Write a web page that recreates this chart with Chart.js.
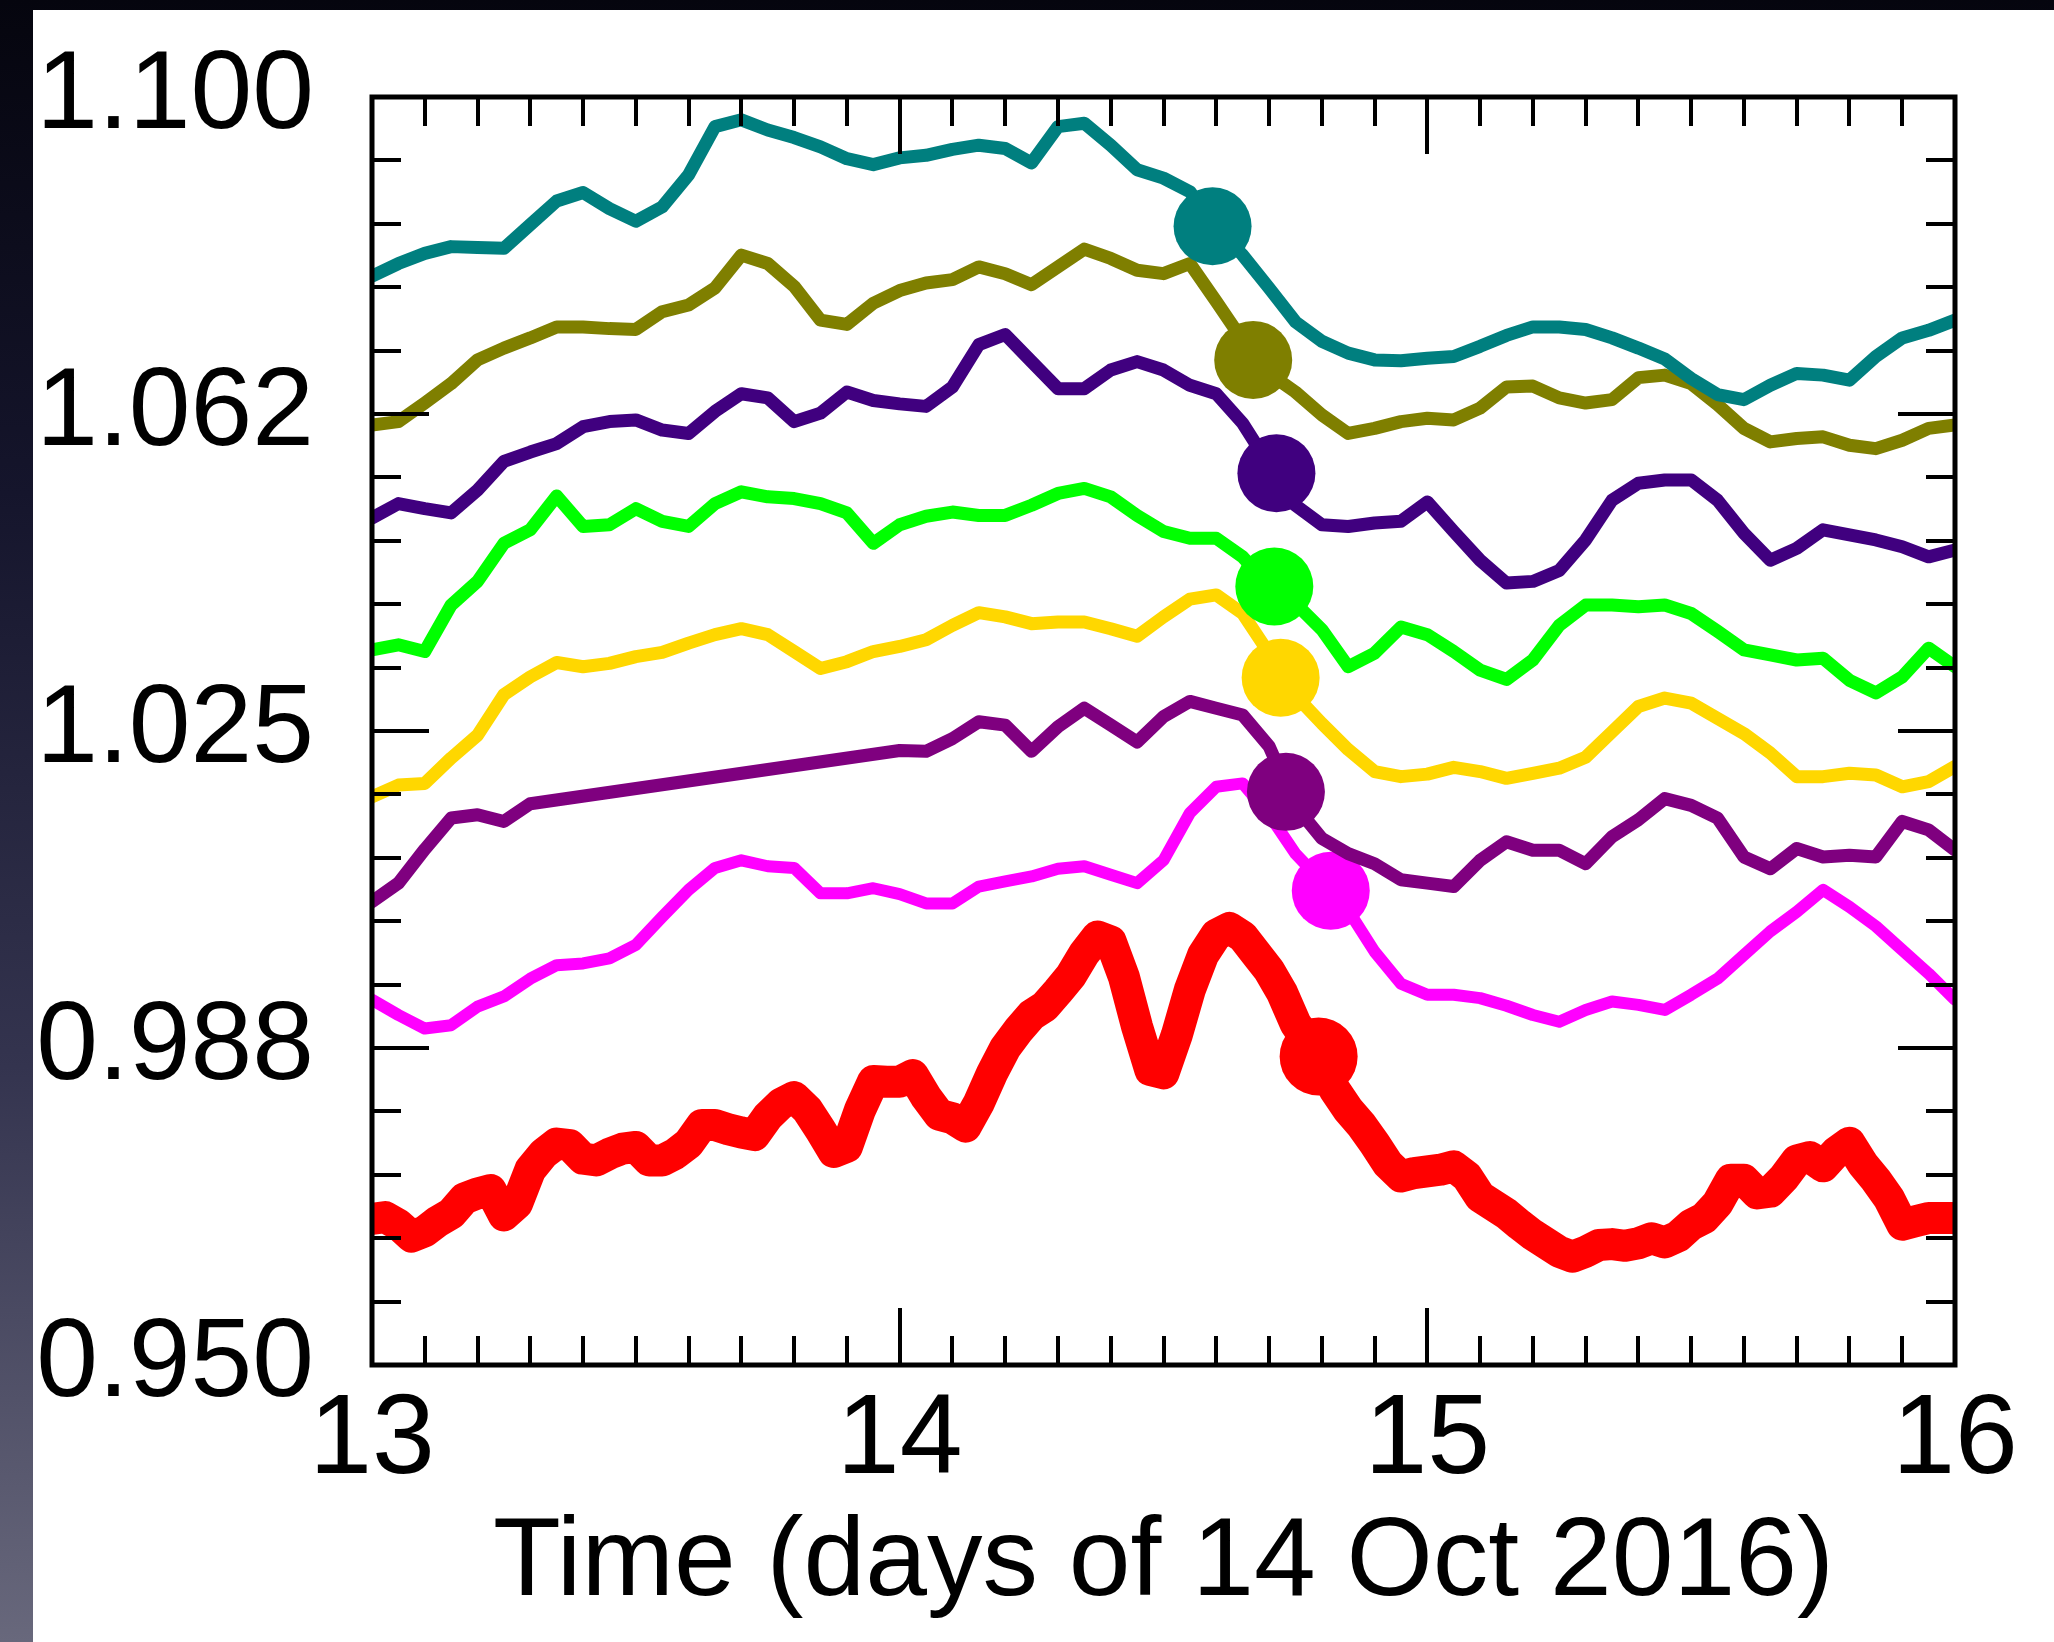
<!DOCTYPE html>
<html>
<head>
<meta charset="utf-8">
<title>Normalised curves, 13-16 Oct 2016</title>
<script src="https://cdn.jsdelivr.net/npm/chart.js@4.4.1/dist/chart.umd.min.js"></script>
<style>
  html, body { margin: 0; padding: 0; }
  body {
    width: 2054px;
    height: 1642px;
    position: relative;
    overflow: hidden;
    background: linear-gradient(to bottom, #05050e 0%, #15152c 30%, #34344f 65%, #68687c 100%);
  }
  #panel { position: absolute; left: 33px; top: 10px; right: 0; bottom: 0; background: #fff; }
  #chart { position: absolute; left: 0; top: 0; }
</style>
</head>
<body>
<div id="panel"></div>
<canvas id="chart" width="2054" height="1642"></canvas>
<script>
// ---------------------------------------------------------------------------
// Axis ticks
// ---------------------------------------------------------------------------
const xTickValues = [13, 14, 15, 16];
const yTickValues = [0.95, 0.9875, 1.025, 1.0625, 1.1];
const yTickLabels = ['0.950', '0.988', '1.025', '1.062', '1.100'];
const xTitle = 'Time (days of 14 Oct 2016)';

// sample times: every 0.05 day for the smooth curves, 0.025 day for the red one
const days = [];
for (let i = 0; i <= 60; i++) days.push(+(13 + i * 0.05).toFixed(3));
const redDays = [];
for (let i = 0; i <= 120; i++) redDays.push(+(13 + i * 0.025).toFixed(3));

// ---------------------------------------------------------------------------
// Series values (top curve first)
// ---------------------------------------------------------------------------
const teal = [
  1.0788, 1.0803, 1.0815, 1.0823, 1.0822, 1.0821, 1.0849, 1.0877, 1.0887, 1.0868,
  1.0853, 1.0870, 1.0908, 1.0965, 1.0973, 1.0961, 1.0952, 1.0941, 1.0927, 1.0920,
  1.0928, 1.0931, 1.0938, 1.0943, 1.0939, 1.0922, 1.0965, 1.0969, 1.0943, 1.0914,
  1.0904, 1.0888, 1.0845, 1.0813, 1.0774, 1.0734, 1.0711, 1.0697, 1.0689, 1.0688,
  1.0691, 1.0693, 1.0705, 1.0718, 1.0728, 1.0728, 1.0725, 1.0715, 1.0703, 1.0690,
  1.0667, 1.0648, 1.0642, 1.0659, 1.0673, 1.0671, 1.0665, 1.0693, 1.0715, 1.0724,
  1.0736
];
const olive = [
  1.0612, 1.0616, 1.0638, 1.0661, 1.0689, 1.0703, 1.0715, 1.0728, 1.0728, 1.0726,
  1.0725, 1.0746, 1.0754, 1.0774, 1.0813, 1.0803, 1.0776, 1.0736, 1.0731, 1.0756,
  1.0771, 1.0780, 1.0784, 1.0799, 1.0791, 1.0778, 1.0799, 1.0820, 1.0809, 1.0795,
  1.0791, 1.0803, 1.0758, 1.0712, 1.0673, 1.0651, 1.0624, 1.0602, 1.0608, 1.0616,
  1.0620, 1.0618, 1.0632, 1.0657, 1.0658, 1.0644, 1.0638, 1.0642, 1.0668, 1.0671,
  1.0661, 1.0636, 1.0608, 1.0592, 1.0596, 1.0598, 1.0588, 1.0584, 1.0594, 1.0608,
  1.0612
];
const indigo = [
  1.0502, 1.0519, 1.0513, 1.0508, 1.0535, 1.0569, 1.0580, 1.0590, 1.0610, 1.0616,
  1.0618, 1.0606, 1.0602, 1.0628, 1.0649, 1.0644, 1.0616, 1.0626, 1.0651, 1.0641,
  1.0637, 1.0634, 1.0657, 1.0707, 1.0719, 1.0687, 1.0655, 1.0655, 1.0677, 1.0687,
  1.0677, 1.0659, 1.0649, 1.0614, 1.0565, 1.0517, 1.0494, 1.0492, 1.0496, 1.0498,
  1.0521, 1.0486, 1.0452, 1.0425, 1.0427, 1.0440, 1.0476, 1.0523, 1.0543, 1.0547,
  1.0547, 1.0523, 1.0484, 1.0452, 1.0466, 1.0488, 1.0482, 1.0476, 1.0468, 1.0456,
  1.0464
];
const green = [
  1.0346, 1.0352, 1.0344, 1.0399, 1.0427, 1.0472, 1.0488, 1.0528, 1.0492, 1.0494,
  1.0513, 1.0498, 1.0492, 1.0519, 1.0533, 1.0527, 1.0525, 1.0519, 1.0508, 1.0472,
  1.0494, 1.0504, 1.0509, 1.0505, 1.0505, 1.0517, 1.0531, 1.0537, 1.0527, 1.0505,
  1.0486, 1.0478, 1.0478, 1.0456, 1.0421, 1.0401, 1.0370, 1.0326, 1.0342, 1.0373,
  1.0364, 1.0344, 1.0322, 1.0311, 1.0334, 1.0375, 1.0399, 1.0399, 1.0397, 1.0399,
  1.0389, 1.0368, 1.0346, 1.0340, 1.0334, 1.0336, 1.0310, 1.0295, 1.0314, 1.0348,
  1.0326
];
const gold = [
  1.0172, 1.0186, 1.0188, 1.0218, 1.0245, 1.0293, 1.0314, 1.0331, 1.0326, 1.0330,
  1.0338, 1.0343, 1.0354, 1.0364, 1.0371, 1.0364, 1.0344, 1.0324, 1.0332, 1.0344,
  1.0350, 1.0358, 1.0375, 1.0390, 1.0385, 1.0377, 1.0379, 1.0379, 1.0371, 1.0362,
  1.0385, 1.0406, 1.0411, 1.0389, 1.0342, 1.0292, 1.0259, 1.0228, 1.0202, 1.0196,
  1.0199, 1.0207, 1.0202, 1.0194, 1.0200, 1.0206, 1.0219, 1.0249, 1.0279, 1.0289,
  1.0283, 1.0265, 1.0247, 1.0224, 1.0196, 1.0196, 1.0200, 1.0198, 1.0184, 1.0190,
  1.0208
];
// no samples between 13.30 and 14.00: the line is drawn straight across the gap
const purple = [
  1.0048, 1.0070, 1.0110, 1.0147, 1.0151, 1.0143, 1.0164, null, null, null,
  null, null, null, null, null, null, null, null, null, null,
  1.0227, 1.0226, 1.0241, 1.0261, 1.0257, 1.0226, 1.0255, 1.0277, 1.0257, 1.0237,
  1.0267, 1.0285, 1.0277, 1.0269, 1.0232, 1.0161, 1.0123, 1.0105, 1.0093, 1.0074,
  1.0070, 1.0066, 1.0097, 1.0119, 1.0109, 1.0109, 1.0093, 1.0125, 1.0145, 1.0170,
  1.0162, 1.0147, 1.0101, 1.0087, 1.0111, 1.0101, 1.0103, 1.0101, 1.0143, 1.0133,
  1.0109
];
const magenta = [
  0.9932, 0.9914, 0.9898, 0.9902, 0.9924, 0.9936, 0.9957, 0.9973, 0.9975, 0.9981,
  0.9997, 1.0030, 1.0062, 1.0088, 1.0097, 1.0090, 1.0088, 1.0058, 1.0058, 1.0064,
  1.0057, 1.0046, 1.0046, 1.0066, 1.0072, 1.0078, 1.0087, 1.0090, 1.0080, 1.0070,
  1.0097, 1.0153, 1.0184, 1.0188, 1.0151, 1.0105, 1.0072, 1.0038, 0.9989, 0.9951,
  0.9938, 0.9938, 0.9934, 0.9925, 0.9914, 0.9906, 0.9920, 0.9930, 0.9926, 0.9920,
  0.9938, 0.9957, 0.9985, 1.0013, 1.0036, 1.0062, 1.0042, 1.0019, 0.9991, 0.9963,
  0.9932
];
const red = [
  0.9673, 0.9675, 0.9666, 0.9652, 0.9658, 0.9670, 0.9679, 0.9697, 0.9703, 0.9707,
  0.9677, 0.9691, 0.9731, 0.9750, 0.9762, 0.9760, 0.9744, 0.9742, 0.9750, 0.9756,
  0.9758, 0.9742, 0.9742, 0.9750, 0.9762, 0.9784, 0.9784, 0.9779, 0.9775, 0.9772,
  0.9794, 0.9809, 0.9817, 0.9802, 0.9778, 0.9752, 0.9758, 0.9802, 0.9836, 0.9835,
  0.9835, 0.9843, 0.9817, 0.9796, 0.9792, 0.9782, 0.9810, 0.9845, 0.9875, 0.9896,
  0.9914, 0.9924, 0.9942, 0.9961, 0.9987, 1.0007, 1.0001, 0.9959, 0.9900, 0.9849,
  0.9845, 0.9890, 0.9944, 0.9985, 1.0009, 1.0017, 1.0007, 0.9987, 0.9967, 0.9940,
  0.9904, 0.9881, 0.9855, 0.9825, 0.9802, 0.9784, 0.9762, 0.9738, 0.9723, 0.9727,
  0.9729, 0.9731, 0.9735, 0.9723, 0.9699, 0.9689, 0.9679, 0.9666, 0.9654, 0.9644,
  0.9634, 0.9628, 0.9634, 0.9642, 0.9643, 0.9641, 0.9644, 0.9650, 0.9645, 0.9652,
  0.9666, 0.9674, 0.9691, 0.9719, 0.9719, 0.9703, 0.9705, 0.9721, 0.9742, 0.9746,
  0.9735, 0.9752, 0.9763, 0.9738, 0.9719, 0.9697, 0.9666, 0.9670, 0.9674, 0.9674,
  0.9674
];

// one highlighted sample per curve
const markerDay = [14.593, 14.670, 14.714, 14.710, 14.722, 14.732, 14.817, 14.794];
const markerValue = [1.0847, 1.0689, 1.0555, 1.0421, 1.0313, 1.0178, 1.0061, 0.9865];

// ---------------------------------------------------------------------------
// Styling
// ---------------------------------------------------------------------------
const curves = [teal, olive, indigo, green, gold, purple, magenta, red];
const curveColors = ['#007f7f', '#7f7f00', '#40007f', '#00ff00', '#ffd700', '#7f007f', '#ff00ff', '#ff0000'];
const curveWidths = [13, 13, 13, 13, 13, 13, 12, 32];
const FONT = "'Liberation Sans', Arial, Helvetica, sans-serif";
const NARROW = "'Liberation Sans Narrow', 'Arial Narrow', 'Liberation Sans', Arial, sans-serif";

Chart.defaults.font.family = FONT;
Chart.defaults.color = '#000';

const datasets = [];
curves.forEach(function (vals, i) {
  const times = vals === red ? redDays : days;
  datasets.push({
    type: 'line',
    data: times.map((d, k) => ({ x: d, y: vals[k] })),
    borderColor: curveColors[i],
    borderWidth: curveWidths[i],
    borderJoinStyle: 'round',
    borderCapStyle: 'round',
    pointRadius: 0,
    tension: 0,
    spanGaps: true,
    clip: 0,
    order: 2 * i + 1
  });
  datasets.push({
    type: 'line',
    showLine: false,
    data: [{ x: markerDay[i], y: markerValue[i] }],
    backgroundColor: curveColors[i],
    borderColor: curveColors[i],
    borderWidth: 0,
    pointRadius: 39,
    pointHoverRadius: 39,
    order: 2 * i
  });
});

// frame with inward ticks on all four sides
const frameAndTicks = {
  id: 'frameAndTicks',
  afterDatasetsDraw(chart) {
    const { ctx, chartArea: a, scales: { x, y } } = chart;
    ctx.save();
    ctx.strokeStyle = '#000';
    ctx.lineWidth = 4;
    ctx.beginPath();
    for (let i = 1; i < 30; i++) {
      const px = Math.round(x.getPixelForValue(13 + i * 0.1));
      const len = i % 10 === 0 ? 57 : 29;
      ctx.moveTo(px, a.bottom); ctx.lineTo(px, a.bottom - len);
      ctx.moveTo(px, a.top); ctx.lineTo(px, a.top + len);
    }
    for (let i = 1; i < 20; i++) {
      const py = Math.round(y.getPixelForValue(0.95 + i * 0.0075));
      const len = i % 5 === 0 ? 57 : 29;
      ctx.moveTo(a.left, py); ctx.lineTo(a.left + len, py);
      ctx.moveTo(a.right, py); ctx.lineTo(a.right - len, py);
    }
    ctx.stroke();
    ctx.lineWidth = 5;
    ctx.strokeRect(a.left, a.top, a.right - a.left, a.bottom - a.top);
    ctx.restore();
  }
};

new Chart(document.getElementById('chart'), {
  type: 'line',
  data: { datasets },
  options: {
    responsive: false,
    animation: false,
    devicePixelRatio: 1,
    events: [],
    layout: { padding: { left: 0, top: 97, right: 99, bottom: 0 } },
    plugins: {
      legend: { display: false },
      tooltip: { enabled: false }
    },
    scales: {
      x: {
        type: 'linear',
        min: 13,
        max: 16,
        grid: { display: false, drawTicks: false },
        border: { display: false },
        afterBuildTicks: scale => { scale.ticks = xTickValues.map(v => ({ value: v })); },
        afterFit: scale => {
          scale.height = 277;
          scale.paddingLeft = 0;
          scale.paddingRight = 0;
        },
        ticks: {
          autoSkip: false,
          maxRotation: 0,
          padding: 20,
          font: { family: NARROW, size: 113, lineHeight: 1 },
          callback: v => String(v)
        },
        title: {
          display: true,
          text: xTitle,
          font: { size: 111, lineHeight: 1 },
          padding: { top: 0, bottom: 22 }
        }
      },
      y: {
        min: 0.95,
        max: 1.1,
        grid: { display: false, drawTicks: false },
        border: { display: false },
        afterBuildTicks: scale => { scale.ticks = yTickValues.map(v => ({ value: v })); },
        afterFit: scale => {
          scale.width = 372;
          scale.paddingTop = 0;
          scale.paddingBottom = 0;
        },
        ticks: {
          padding: 58,
          font: { size: 111, lineHeight: 1 },
          callback: (v, i) => yTickLabels[i]
        }
      }
    }
  },
  plugins: [frameAndTicks]
});
</script>
</body>
</html>
